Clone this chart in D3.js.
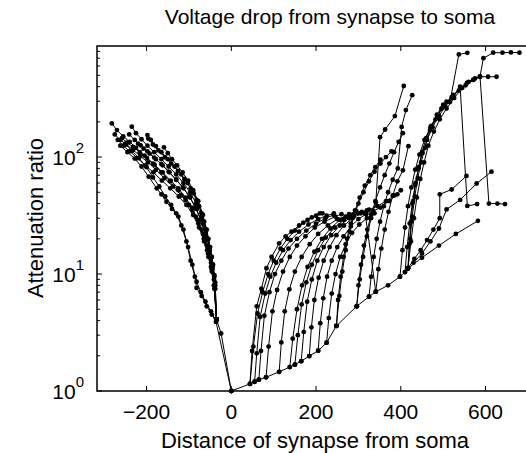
<!DOCTYPE html>
<html><head><meta charset="utf-8">
<script src="https://cdn.jsdelivr.net/npm/d3@7"></script>
<style>body{margin:0;background:#fff}svg{display:block}text{font-family:"Liberation Sans",Arial,sans-serif;fill:#000}</style>
</head><body><svg id="c" width="526" height="453"></svg>
<script>
const xTicks=[-200,0,200,400,600];
const yTicks=[1,10,100];
const xDomain=[-317,700];
const yDomain=[1,890];
const titleText="Voltage drop from synapse to soma";
const xLabel="Distance of synapse from soma";
const yLabel="Attenuation ratio";

// basal dendrites (negative distances)
const L1=[[-282,194],[-270,170],[-255,150],[-240,135],[-225,120],[-205,103],[-185,88],[-165,74],[-145,62],[-125,52],[-108,43],[-92,35],[-78,27],[-65,20],[-55,15],[-46,11],[-40,8],[-35,4.1],[-24,3.1],[0,1]];
const L2=[[-275,156],[-262,140],[-248,128],[-232,115],[-215,102],[-197,90],[-178,78],[-158,66],[-138,56],[-118,47],[-100,39],[-84,31],[-70,24],[-58,17.5],[-48,12.5],[-41,9],[-35,4.1]];
const L3=[[-241,156],[-228,140],[-214,126],[-198,112],[-182,99],[-165,87],[-148,75],[-130,64],[-113,54],[-97,45],[-82,36],[-68,27],[-57,20],[-47,14],[-40,9.5],[-35,4.1]];
const L4=[[-235,182],[-225,160],[-212,142],[-198,125],[-182,110],[-165,96],[-148,83],[-130,71],[-113,60],[-97,50],[-83,40],[-70,31],[-60,23],[-51,16],[-44,11.5],[-38,7.5],[-35,4.1]];
const L5=[[-198,154],[-190,140],[-178,124],[-165,110],[-150,96],[-134,83],[-118,71],[-103,60],[-89,49],[-76,38],[-64,28],[-54,20],[-46,14],[-40,9.8],[-35,4.1]];
const L6=[[-196,144],[-185,128],[-172,114],[-157,100],[-142,88],[-126,76],[-111,65],[-96,54],[-82,43],[-70,33],[-60,24],[-51,17],[-44,12],[-38,8],[-35,4.1]];
const L7=[[-159,121],[-150,108],[-140,96],[-128,85],[-115,74],[-102,63],[-90,52],[-78,42],[-67,32],[-58,24],[-50,17],[-43,12],[-38,8.5],[-35,4.1]];
const L8=[[-268,140],[-255,125],[-240,112],[-222,98],[-203,85],[-184,74],[-164,63],[-144,54],[-124,46],[-106,39],[-90,32],[-76,25],[-64,19],[-54,14],[-46,10.5],[-40,7.5],[-35,4.1]];
const L9=[[-258,145],[-246,133],[-232,122],[-216,110],[-199,98],[-181,86],[-162,74],[-143,63],[-125,54],[-108,45],[-93,37],[-79,29],[-67,22],[-57,16],[-48,11.5],[-41,8],[-35,4.1]];
const L10=[[-220,130],[-207,118],[-193,107],[-178,96],[-162,85],[-146,74],[-130,64],[-114,55],[-99,46],[-85,37],[-72,29],[-61,21],[-52,15],[-45,11],[-39,7.5],[-35,4.1]];
const L11=[[-262,125],[-245,110],[-228,97],[-212,83],[-195,68],[-176,54],[-165,48],[-153,41.5],[-140,36],[-125,31],[-113,24],[-102,17],[-92,12],[-82,8.6],[-72,7],[-61,5.8],[-48,4.8],[-36,3.9],[0,1]];
const L12=[[-250,130],[-235,113],[-218,98],[-200,82],[-185,67],[-170,56],[-156,46],[-142,39],[-130,33],[-118,26],[-106,19],[-96,13],[-86,9.5],[-82,7.6],[-70,6.5],[-58,5.3],[-46,4.5],[-36,3.9]];

// apical trunk
const T=[[0,1],[44,1.15],[55,1.2],[65,1.25],[82,1.31],[113,1.46],[138,1.6],[150,1.68],[165,1.8],[184,1.99],[205,2.21],[225,2.59],[248,3.6],[296,5.3],[325,6.4],[341,7.06],[370,8.0],[398,9.5],[410,10.4],[417,11.2],[450,13.8],[490,17.5],[530,22],[582,28.5]];
// oblique branches
const A1=[[44,1.15],[49,2.2],[60,5.3],[71,7.5],[83,11.2],[95,14],[113,18.3],[128,21],[142,23],[160,26],[180,29],[200,31.5],[215,33]];
const A2=[[44,1.15],[52,2.4],[62,4.6],[74,7],[87,10],[100,13],[116,16.5],[132,20],[150,23.5],[170,27.5],[190,30.5],[209,33]];
const A3=[[55,1.2],[60,2.1],[68,4.3],[80,6.8],[92,9.5],[106,12.5],[122,16],[140,19.5],[160,23],[182,26.5],[205,29.5],[225,31.5],[242,33]];
const A4=[[65,1.25],[70,2.2],[78,4.4],[90,7],[103,10],[118,13],[135,16.5],[155,20],[177,23.5],[200,27],[222,30],[242,32]];
const A5=[[82,1.31],[88,2.4],[97,4.8],[108,7.3],[122,10.5],[138,14],[155,17.5],[175,21],[197,25],[220,28],[245,31],[260,32.5]];
const A6=[[113,1.46],[118,2.6],[126,4.8],[137,7.4],[150,10.5],[166,14],[185,18],[205,22],[228,26],[250,29.5],[270,31]];
const B1=[[138,1.6],[145,2.8],[155,5],[167,8],[180,11.5],[196,15.5],[214,20],[234,24.5],[256,29],[278,32.5],[295,34.5]];
const B2=[[150,1.68],[157,3],[166,5.5],[177,8.5],[190,12],[205,16],[223,20.5],[244,25],[266,29],[288,32],[308,34]];
const B3=[[165,1.8],[171,3.2],[179,5.8],[190,9],[203,13],[218,17],[236,21.5],[256,26],[278,30],[300,33],[320,35]];
const B4=[[184,1.99],[189,3.5],[196,6],[206,9.3],[218,13],[232,17],[248,21.5],[266,26],[286,30],[306,33],[325,35.5],[345,38],[365,42],[385,47],[400,52]];
const B5=[[205,2.21],[210,3.8],[217,6.2],[226,9.5],[237,13],[250,17],[265,21],[282,25.5],[300,29.5],[318,32.5],[335,34.5],[352,37],[372,42],[392,48]];
const B6=[[225,2.59],[230,4.2],[237,6.8],[246,10],[257,14],[270,18],[285,22.5],[302,26.5],[320,30],[338,33]];
const V1=[[341,7.06],[316,33]];
const C1=[[248,3.6],[252,6],[258,9.5],[265,14],[273,20],[282,27],[292,35],[303,45],[315,57],[328,70],[340,82],[352,95]];
const C2=[[248,3.6],[255,6.5],[262,10.5],[270,16],[279,23],[289,31],[300,40],[312,50],[325,62],[338,75],[352,88],[365,100],[378,112]];
const C3=[[296,5.3],[300,8],[306,12],[313,17.5],[321,24],[330,32],[340,42],[351,55],[362,70],[373,88],[384,110],[395,135],[405,160]];
const C4=[[296,5.3],[303,9],[311,14],[320,21],[330,30],[341,41],[351,148],[363,172],[386,224],[407,405]];
const C5=[[325,6.4],[330,9.5],[336,14],[343,20],[351,28],[360,38],[370,50],[381,64],[393,80],[402,181],[412,252],[427,338]];
const C6=[[341,7.06],[347,11],[354,16.5],[362,24],[371,34],[381,47],[392,62],[405,77],[418,124]];
// tuft branches
const D1=[[417,11.2],[420,18],[424,28],[429,42],[435,60],[442,82],[450,110],[460,145],[472,185],[485,230],[500,280],[516,295],[537,754],[557,778]];
const D2=[[417,11.2],[422,20],[427,31],[433,46],[440,66],[448,90],[457,120],[469,170],[482,210],[496,260],[508,297],[524,340],[540,385],[556,430],[571,456],[587,486],[608,40],[628,40],[646,39.6]];
const D3=[[410,10.4],[415,17],[421,27],[427,40],[434,58],[442,80],[451,108],[462,140],[475,180],[490,225],[505,270],[522,320],[540,400],[557,38.2],[580,39.6]];
const D4=[[398,9.5],[404,16],[410,25],[417,38],[425,55],[434,78],[444,105],[456,140],[470,180],[486,225],[503,275],[520,325],[537,370],[553,410],[571,456],[587,490],[595,700],[618,780],[640,780],[660,785],[680,780]];
const D5=[[417,11.2],[424,19],[431,30],[438,45],[446,65],[455,90],[465,125],[478,165],[492,210],[508,260],[526,320],[545,390],[560,440],[575,470],[587,486],[606,486],[626,486]];
const E1=[[417,11.2],[432,13.5],[447,16],[462,19.5],[477,24],[492,30],[492,48],[520,52.8],[555,69]];
const E2=[[430,12.5],[450,15],[470,19],[490,24.5],[508,35.7],[540,43],[579,59.4],[614,75]];

const lines=[L1,L2,L3,L4,L5,L6,L7,L8,L9,L10,L11,L12,T,A1,A2,A3,A4,A5,A6,B1,B2,B3,B4,B5,B6,V1,C1,C2,C3,C4,C5,C6,D1,D2,D3,D4,D5,E1,E2];

const svg=d3.select("#c");
const x=d3.scaleLinear().domain(xDomain).range([97,97+(xDomain[1]-xDomain[0])*0.4237]);
const y=d3.scaleLog().domain(yDomain).range([391,46]);
const line=d3.line().x(d=>x(d[0])).y(d=>y(d[1]));
const g=svg.append("g");
lines.forEach(s=>{
  g.append("path").attr("d",line(s)).attr("fill","none").attr("stroke","#000").attr("stroke-width",1);
  g.selectAll(null).data(s).enter().append("circle").attr("cx",d=>x(d[0])).attr("cy",d=>y(d[1])).attr("r",2.4).attr("fill","#000");
});
const x0=97,x1=x(xDomain[1]),y0=391,y1=46;
svg.append("path").attr("d",`M${x1},${y1}H${x0}V${y0}H${x1}`).attr("fill","none").attr("stroke","#000").attr("stroke-width",1.5);
xTicks.forEach(t=>{
  svg.append("line").attr("x1",x(t)).attr("x2",x(t)).attr("y1",y0).attr("y2",y0-5).attr("stroke","#000");
  svg.append("line").attr("x1",x(t)).attr("x2",x(t)).attr("y1",y1).attr("y2",y1+5).attr("stroke","#000");
  svg.append("text").attr("x",x(t)).attr("y",419).attr("text-anchor","middle").attr("font-size",21).text(t<0?"\u2212"+Math.abs(t):t);
});
const minor=[];
for(let dec=1;dec<=100;dec*=10){for(let k=2;k<=9;k++){if(dec*k<=yDomain[1])minor.push(dec*k);}}
minor.forEach(v=>svg.append("line").attr("x1",x0).attr("x2",x0+3).attr("y1",y(v)).attr("y2",y(v)).attr("stroke","#000"));
yTicks.forEach(v=>{
  svg.append("line").attr("x1",x0).attr("x2",x0+5).attr("y1",y(v)).attr("y2",y(v)).attr("stroke","#000");
  const t=svg.append("text").attr("x",84).attr("y",y(v)+8).attr("text-anchor","end").attr("font-size",21);
  t.append("tspan").text("10");
  t.append("tspan").attr("dy",-12).attr("font-size",15).text(Math.round(Math.log10(v)));
});
svg.append("text").attr("x",330).attr("y",24).attr("text-anchor","middle").attr("font-size",21).text(titleText);
svg.append("text").attr("x",315).attr("y",448).attr("text-anchor","middle").attr("font-size",22).text(xLabel);
svg.append("text").attr("transform","translate(43,218) rotate(-90)").attr("text-anchor","middle").attr("font-size",22).text(yLabel);
</script></body></html>
